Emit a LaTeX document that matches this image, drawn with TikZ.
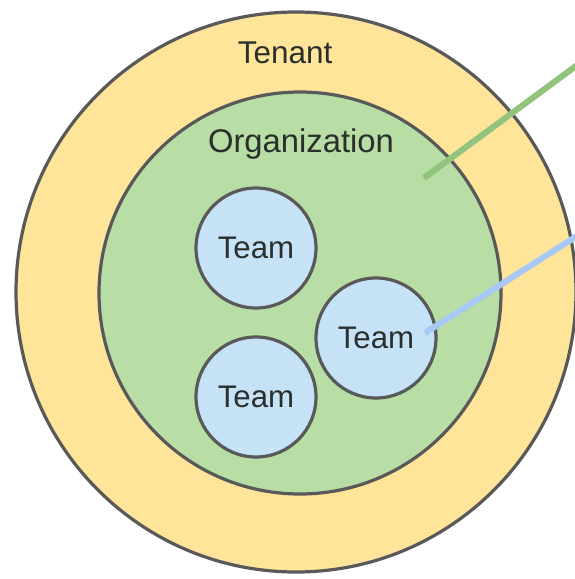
\documentclass[tikz,border=0pt]{standalone}
\usepackage{fontspec}
\setmainfont{Liberation Sans}
\definecolor{tenantfill}{HTML}{FFE599}
\definecolor{orgfill}{HTML}{B8DEA6}
\definecolor{teamfill}{HTML}{C6E2F6}
\definecolor{ringline}{HTML}{595959}
\definecolor{labeltext}{HTML}{2A2F2C}
\definecolor{orglink}{HTML}{93C47D}
\definecolor{teamlink}{HTML}{A8C8F6}
\tikzset{
  ring/.style={circle, draw=ringline, line width=2.4pt, inner sep=0pt},
  tenantring/.style={ring, fill=tenantfill, minimum size=420pt},
  orgring/.style={ring, fill=orgfill, minimum size=301.5pt},
  teamring/.style={ring, fill=teamfill, minimum size=90pt,
    text=labeltext, font=\fontsize{23.4pt}{27pt}\selectfont},
  levellabel/.style={anchor=base, text=labeltext, inner sep=0pt},
  link/.style={line width=4.6pt}
}
\begin{document}
\begin{tikzpicture}[x=0.75pt, y=-0.75pt]
  \useasboundingbox (0,0) rectangle (575,579);
  \clip (0,0) rectangle (575,579);
  % nested scopes: tenant > organization > teams
  \node[tenantring] (tenant) at (296,292) {};
  \node[orgring] (org) at (300,293) {};
  \node[teamring] (teamA) at (256,248) {Team};
  \node[teamring] (teamB) at (256,397) {Team};
  \node[teamring] (teamC) at (376,338) {Team};
  % level captions
  \node[levellabel, font=\fontsize{23.6pt}{27pt}\selectfont] (tenantlabel) at (285,63) {Tenant};
  \node[levellabel, font=\fontsize{24.6pt}{28pt}\selectfont] (orglabel) at (301,152) {Organization};
  % call-out leaders
  \coordinate (orgpin) at (424,178);
  \coordinate (orgout) at (580,63);
  \coordinate (teampin) at (425,333);
  \coordinate (teamout) at (580,234);
  \draw[link, draw=orglink] (orgpin) -- (orgout);
  \draw[link, draw=teamlink] (teampin) -- (teamout);
\end{tikzpicture}
\end{document}
